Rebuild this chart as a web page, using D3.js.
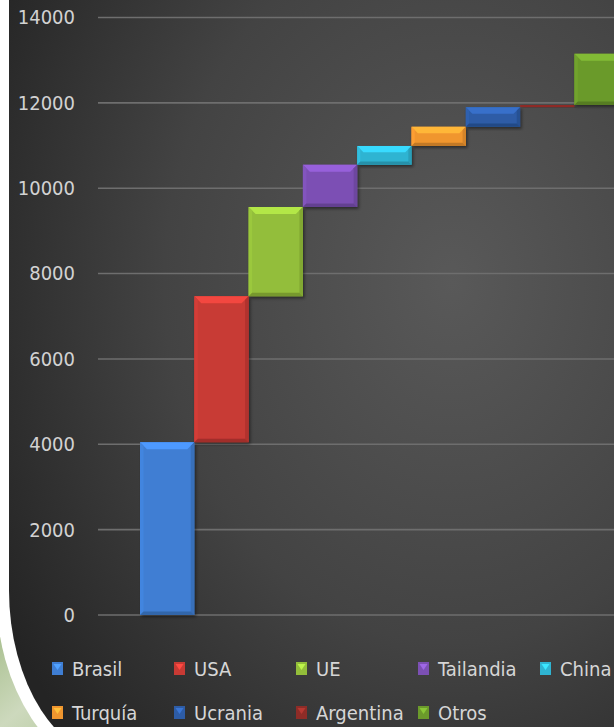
<!DOCTYPE html>
<html>
<head>
<meta charset="utf-8">
<script src="https://cdn.jsdelivr.net/npm/d3@7/dist/d3.min.js"></script>
<style>
  html, body { margin: 0; padding: 0; background: #ffffff; overflow: hidden; }
  svg { display: block; }
  text { font-family: "DejaVu Sans Condensed", "DejaVu Sans", sans-serif; font-stretch: condensed; }
</style>
</head>
<body>
<svg id="chart" width="614" height="727"></svg>
<script>
// ---- data ----
const categories = ["Brasil", "USA", "UE", "Tailandia", "China", "Turquía", "Ucrania", "Argentina", "Otros"];
const values = [4050, 3420, 2090, 990, 440, 450, 460, 50, 1200];
const colors = ["#3f7ed3", "#c83a34", "#93be3a", "#7c50b4", "#2fb4d2", "#f0962f", "#2d5ca6", "#8e2c27", "#6b9a2b"];
const yTicks = [0, 2000, 4000, 6000, 8000, 10000, 12000, 14000];

const W = 614, H = 727;
const svg = d3.select("#chart");
const defs = svg.append("defs");

// background gradient
const rg = defs.append("radialGradient").attr("id", "bg")
  .attr("cx", "0.72").attr("cy", "0.38").attr("r", "0.85");
rg.append("stop").attr("offset", "0").attr("stop-color", "#595959");
rg.append("stop").attr("offset", "0.55").attr("stop-color", "#434343");
rg.append("stop").attr("offset", "1").attr("stop-color", "#242424");

const gg = defs.append("linearGradient").attr("id", "green")
  .attr("x1", "0").attr("y1", "0").attr("x2", "1").attr("y2", "1");
gg.append("stop").attr("offset", "0").attr("stop-color", "#a9c08f");
gg.append("stop").attr("offset", "0.5").attr("stop-color", "#cdd9bd");
gg.append("stop").attr("offset", "1").attr("stop-color", "#b4c99c");

// decorative slide background
svg.append("rect").attr("width", W).attr("height", H).attr("fill", "#ffffff");
svg.append("rect").attr("x", 0).attr("y", 630).attr("width", 110).attr("height", 97).attr("fill", "url(#green)");

function panelPath(left, bottom, rx, ry) {
  const cx = left + rx, cy = bottom - ry;
  return `M${left},-10 L${W + 10},-10 L${W + 10},${bottom} L${cx},${bottom} ` +
    `A${rx},${ry} 0 0 1 ${left},${cy} Z`;
}
svg.append("path").attr("d", panelPath(-4, 772, 122, 182)).attr("fill", "#ffffff");
svg.append("path").attr("d", panelPath(9, 760, 110, 170)).attr("fill", "url(#bg)");

// ---- scales ----
const x = d3.scaleBand().domain(categories).range([140, 140 + 9 * 54.3]).padding(0);
const y = d3.scaleLinear().domain([0, 14000]).range([615, 17.5]);

// gridlines
const grid = svg.append("g");
grid.selectAll("line").data(yTicks).join("line")
  .attr("x1", 98).attr("x2", W)
  .attr("y1", d => y(d)).attr("y2", d => y(d))
  .attr("stroke", "#6e6e6e").attr("stroke-width", 1.6);

// y axis labels via d3 axis
const yAxis = d3.axisLeft(y).tickValues(yTicks).tickSize(0).tickPadding(0).tickFormat(d3.format("d"));
const ag = svg.append("g").attr("transform", "translate(75,0)").call(yAxis);
ag.select(".domain").remove();
ag.selectAll("text").attr("fill", "#d2d2d2").attr("font-size", 20)
  .style("font-family", '"DejaVu Sans Condensed", "DejaVu Sans", sans-serif');

// ---- waterfall bars ----
let cum = 0;
const bars = categories.map((c, i) => {
  const b = { cat: c, start: cum, end: cum + values[i], color: colors[i] };
  cum += values[i];
  return b;
});

// shadow filter
const f = defs.append("filter").attr("id", "sh").attr("x", "-20%").attr("y", "-20%").attr("width", "140%").attr("height", "140%");
f.append("feDropShadow").attr("dx", 1.5).attr("dy", 2).attr("stdDeviation", 1.5).attr("flood-color", "#000").attr("flood-opacity", 0.45);

const bg = svg.append("g");
bars.forEach(b => {
  const x0 = x(b.cat), x1 = x(b.cat) + x.bandwidth();
  const y0 = y(b.end), y1 = y(b.start);
  const h = y1 - y0;
  const g = bg.append("g").attr("filter", "url(#sh)");
  g.append("rect").attr("x", x0).attr("y", y0).attr("width", x1 - x0).attr("height", h).attr("fill", b.color);
  if (h > 6) {
    const bv = Math.min(7, h / 3);
    const c = d3.color(b.color);
    const light = c.brighter(0.55).formatHex();
    const dark = c.darker(0.35).formatHex();
    const darker = c.darker(0.6).formatHex();
    g.append("polygon").attr("points", `${x0},${y0} ${x1},${y0} ${x1 - bv},${y0 + bv} ${x0 + bv},${y0 + bv}`).attr("fill", light);
    g.append("polygon").attr("points", `${x0},${y0} ${x0 + bv * 0.5},${y0 + bv * 0.5} ${x0 + bv * 0.5},${y1 - bv * 0.5} ${x0},${y1}`).attr("fill", c.brighter(0.15).formatHex());
    g.append("polygon").attr("points", `${x1},${y0} ${x1 - bv * 0.5},${y0 + bv * 0.5} ${x1 - bv * 0.5},${y1 - bv * 0.5} ${x1},${y1}`).attr("fill", dark);
    g.append("polygon").attr("points", `${x0},${y1} ${x1},${y1} ${x1 - bv * 0.5},${y1 - bv * 0.5} ${x0 + bv * 0.5},${y1 - bv * 0.5}`).attr("fill", darker);
  }
});

// ---- legend ----
const leg = svg.append("g");
categories.forEach((c, i) => {
  const row = i < 5 ? 0 : 1;
  const col = i < 5 ? i : i - 5;
  const lx = 52 + col * 122;
  const ly = row === 0 ? 669 : 713;
  const col0 = d3.color(colors[i]);
  leg.append("rect").attr("x", lx).attr("y", ly - 7).attr("width", 11).attr("height", 13).attr("fill", colors[i]);
  leg.append("polygon").attr("points", `${lx + 1.5},${ly - 5} ${lx + 9.5},${ly - 5} ${lx + 5.5},${ly + 1}`)
    .attr("fill", col0.brighter(0.7).formatHex());
  leg.append("text").attr("x", lx + 20).attr("y", ly).attr("dy", "0.35em")
    .attr("fill", "#d6d6d6").attr("font-size", 20).text(c);
});
</script>
</body>
</html>
